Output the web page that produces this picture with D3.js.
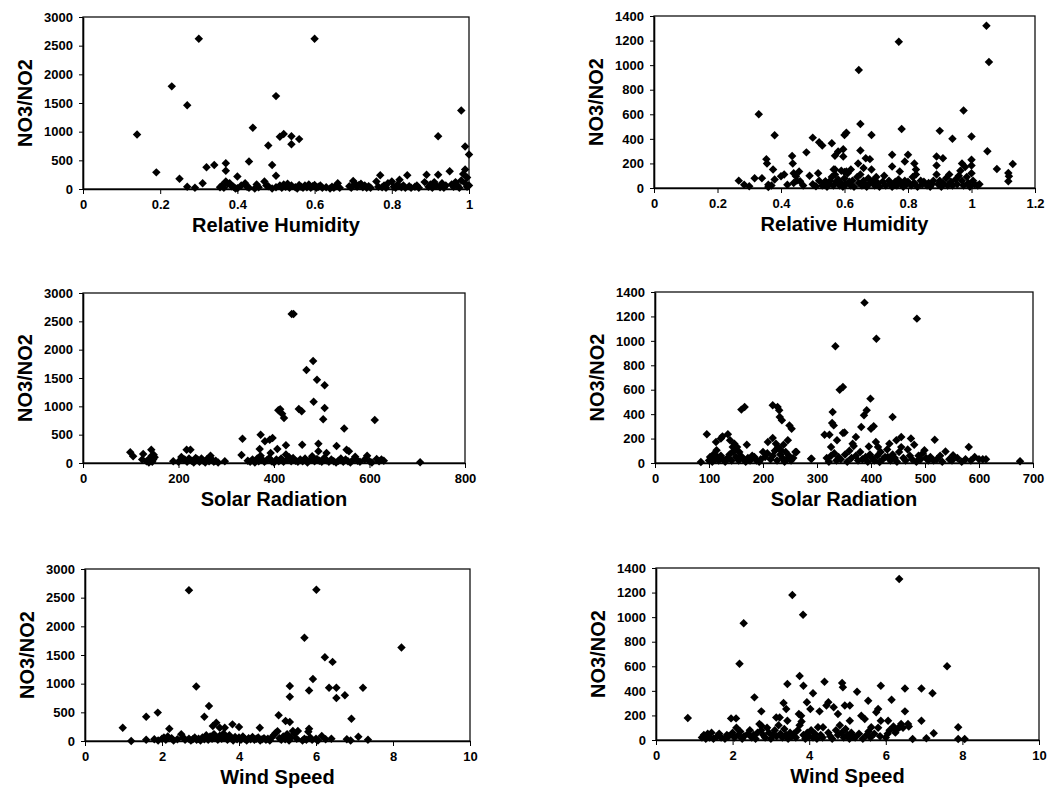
<!DOCTYPE html>
<html lang="en">
  <head>
    <meta charset="utf-8">
    <script src="https://cdn.jsdelivr.net/npm/d3@7"></script>
    <style>
      body {
        margin: 0;
        background: #fff;
      }
      svg {
        display: block;
      }
      .tick text {
        font-family: 'Liberation Sans', Arial, sans-serif;
        font-weight: 700;
        font-size: 13px;
        fill: #000;
      }
      .title {
        font-family: 'Liberation Sans', Arial, sans-serif;
        font-weight: 700;
        fill: #000;
      }
    </style>
  </head>
  <body>
    <svg></svg>
  </body>
  <script>

    // Tick labels
    const ticksRhLeft = [0, 0.2, 0.4, 0.6, 0.8, 1];
    const ticksRhRight = [0, 0.2, 0.4, 0.6, 0.8, 1, 1.2];
    const ticksSolarLeft = [0, 200, 400, 600, 800];
    const ticksSolarRight = [0, 100, 200, 300, 400, 500, 600, 700];
    const ticksWind = [0, 2, 4, 6, 8, 10];
    const ticksRatioLeft = [0, 500, 1000, 1500, 2000, 2500, 3000];
    const ticksRatioRight = [0, 200, 400, 600, 800, 1000, 1200, 1400];

    const xTitles = ['Relative Humidity', 'Relative Humidity', 'Solar Radiation', 'Solar Radiation', 'Wind Speed', 'Wind Speed'];
    const yTitle = 'NO3/NO2';

    // [x, NO3/NO2]
    const rhLeft = [
      [0.14, 950], [0.19, 290], [0.23, 1790], [0.25, 180], [0.27, 1460], [0.30, 2620], [0.32, 380],
      [0.34, 420], [0.37, 450], [0.37, 320], [0.40, 220], [0.43, 480], [0.44, 1070], [0.48, 760],
      [0.49, 420], [0.50, 1620], [0.50, 230], [0.51, 910], [0.52, 960], [0.54, 920], [0.54, 780],
      [0.56, 870], [0.60, 2620], [0.92, 920], [0.98, 1370], [0.99, 740], [1.0, 600],
      [0.27, 40], [0.29, 20], [0.31, 100], [0.355, 30], [0.36, 60], [0.365, 20], [0.37, 130], [0.375, 90],
      [0.38, 100], [0.385, 50], [0.39, 40], [0.395, 10], [0.40, 15], [0.41, 60], [0.42, 100], [0.425, 40],
      [0.43, 20], [0.445, 10], [0.45, 80], [0.455, 30], [0.47, 130], [0.475, 60], [0.48, 50], [0.49, 10],
      [0.50, 30], [0.51, 60], [0.515, 20], [0.52, 80], [0.525, 40], [0.53, 90], [0.535, 20], [0.54, 60],
      [0.55, 30], [0.555, 10], [0.56, 70], [0.565, 40], [0.57, 20], [0.575, 60], [0.58, 30], [0.585, 80],
      [0.59, 20], [0.595, 50], [0.60, 70], [0.605, 20], [0.61, 40], [0.615, 60], [0.62, 20], [0.63, 30],
      [0.64, 10], [0.645, 40], [0.65, 20], [0.655, 50], [0.66, 100], [0.665, 20], [0.69, 50], [0.695, 20],
      [0.70, 140], [0.705, 90], [0.71, 40], [0.715, 70], [0.72, 90], [0.725, 30], [0.73, 60], [0.735, 20],
      [0.74, 50], [0.745, 20], [0.76, 130], [0.765, 40], [0.77, 240], [0.775, 30], [0.78, 60], [0.785, 20],
      [0.79, 100], [0.80, 130], [0.805, 40], [0.81, 20], [0.815, 80], [0.82, 160], [0.825, 30], [0.83, 60],
      [0.835, 20], [0.84, 240], [0.845, 50], [0.85, 20], [0.86, 40], [0.865, 60], [0.87, 20], [0.885, 120],
      [0.89, 250], [0.895, 40], [0.90, 80], [0.905, 20], [0.91, 120], [0.915, 60], [0.92, 250], [0.925, 30],
      [0.93, 100], [0.935, 20], [0.94, 60], [0.95, 310], [0.955, 80], [0.96, 40], [0.965, 120], [0.97, 60],
      [0.975, 20], [0.98, 150], [0.985, 260], [0.99, 340], [0.99, 100], [0.995, 40], [1.0, 60], [0.995, 200]
    ];

    const rhRight = [
      [0.267, 60], [0.284, 27], [0.30, 14], [0.317, 80], [0.33, 600], [0.34, 80], [0.354, 235], [0.356, 200],
      [0.36, 27], [0.375, 150], [0.38, 430], [0.38, 70], [0.40, 95], [0.41, 110], [0.42, 27], [0.435, 260],
      [0.437, 200], [0.44, 120], [0.447, 95], [0.457, 135], [0.46, 54], [0.48, 290], [0.49, 100], [0.50, 410],
      [0.517, 120], [0.52, 373], [0.53, 346], [0.54, 54], [0.56, 365], [0.566, 150], [0.57, 262], [0.58, 297],
      [0.596, 316], [0.596, 257], [0.60, 432], [0.606, 450], [0.606, 135], [0.62, 150], [0.645, 960],
      [0.65, 520], [0.65, 305], [0.643, 200], [0.66, 162], [0.667, 243], [0.68, 235], [0.685, 432], [0.685, 150],
      [0.771, 1190], [0.78, 480], [0.774, 135], [0.75, 270], [0.75, 175], [0.79, 216], [0.80, 270], [0.82, 200],
      [0.825, 150], [0.89, 184], [0.89, 257], [0.91, 243], [0.90, 465], [0.94, 400], [0.97, 200], [0.975, 630],
      [1.0, 420], [1.0, 230], [1.0, 184], [1.047, 1320], [1.055, 1025], [1.05, 300], [1.08, 154],
      [1.116, 122], [1.118, 95], [1.116, 54], [1.13, 195],
      [0.36, 8], [0.37, 20], [0.44, 40], [0.45, 60], [0.47, 20], [0.50, 30], [0.51, 14], [0.52, 60], [0.53, 20],
      [0.535, 40], [0.545, 10], [0.55, 30], [0.555, 60], [0.56, 90], [0.565, 20], [0.57, 110], [0.575, 50],
      [0.58, 70], [0.585, 20], [0.59, 40], [0.595, 10], [0.60, 80], [0.605, 30], [0.61, 120], [0.615, 50],
      [0.62, 20], [0.625, 60], [0.63, 10], [0.64, 90], [0.645, 40], [0.65, 110], [0.655, 20], [0.66, 60],
      [0.665, 30], [0.67, 10], [0.675, 80], [0.68, 40], [0.69, 60], [0.695, 20], [0.70, 90], [0.705, 40],
      [0.71, 10], [0.72, 50], [0.725, 100], [0.73, 20], [0.74, 60], [0.745, 30], [0.75, 10], [0.76, 50],
      [0.765, 20], [0.77, 70], [0.78, 40], [0.785, 10], [0.79, 60], [0.795, 30], [0.80, 50], [0.81, 20],
      [0.815, 90], [0.82, 40], [0.825, 110], [0.83, 10], [0.84, 60], [0.845, 30], [0.85, 50], [0.86, 20],
      [0.865, 40], [0.87, 10], [0.875, 30], [0.88, 60], [0.89, 110], [0.895, 30], [0.90, 60], [0.905, 10],
      [0.91, 40], [0.92, 80], [0.925, 20], [0.93, 110], [0.935, 50], [0.94, 20], [0.95, 70], [0.955, 30],
      [0.96, 100], [0.965, 140], [0.97, 60], [0.975, 20], [0.98, 170], [0.985, 90], [0.99, 40], [0.995, 10],
      [1.0, 120], [1.005, 60], [1.01, 30], [1.02, 20], [1.025, 30], [0.57, 150], [0.59, 140], [0.60, 130]
    ];

    const solarLeft = [
      [99, 190], [105, 120], [126, 160], [143, 235], [148, 147], [217, 235], [225, 235], [334, 430],
      [370, 247], [372, 500], [381, 382], [391, 411], [397, 441], [393, 176], [407, 247], [409, 930],
      [413, 950], [417, 870], [421, 794], [425, 312], [437, 2630], [441, 2630], [452, 953], [458, 912],
      [459, 324], [468, 1640], [482, 1800], [483, 1080], [490, 1470], [493, 340], [493, 206], [506, 1370],
      [506, 970], [503, 770], [510, 176], [531, 300], [547, 610], [552, 235], [557, 206], [611, 760], [706, 12],
      [124, 60], [133, 30], [138, 10], [140, 80], [143, 120], [145, 20], [147, 60], [150, 100], [189, 30],
      [200, 20], [206, 106], [210, 60], [213, 60], [218, 20], [222, 80], [228, 40], [232, 10], [236, 90],
      [240, 60], [244, 20], [248, 80], [252, 40], [256, 10], [260, 70], [264, 30], [267, 130], [270, 60],
      [274, 20], [278, 40], [283, 10], [297, 30], [332, 141], [345, 40], [350, 20], [355, 60], [360, 10],
      [365, 80], [368, 30], [372, 130], [375, 60], [380, 20], [385, 50], [390, 90], [395, 30], [400, 10],
      [405, 60], [410, 30], [415, 80], [420, 20], [425, 150], [428, 60], [432, 100], [436, 30], [440, 90],
      [445, 40], [450, 20], [455, 60], [460, 30], [465, 80], [470, 10], [475, 50], [480, 120], [485, 30],
      [490, 70], [495, 40], [500, 20], [505, 90], [510, 50], [515, 20], [520, 60], [525, 30], [530, 10],
      [535, 40], [540, 80], [545, 20], [550, 60], [555, 30], [560, 10], [565, 50], [570, 110], [575, 40],
      [580, 20], [590, 60], [595, 130], [600, 30], [605, 10], [615, 70], [620, 30], [625, 60], [630, 40]
    ];

    const solarRight = [
      [85, 8], [96, 235], [113, 172], [114, 104], [122, 200], [125, 218], [135, 235], [139, 186], [144, 131],
      [145, 90], [147, 158], [156, 90], [160, 437], [166, 458], [170, 150], [161, 49], [180, 60], [184, 50],
      [200, 90], [209, 172], [218, 205], [218, 472], [227, 458], [230, 431], [231, 377], [235, 350], [224, 158],
      [233, 104], [246, 186], [249, 308], [253, 281], [260, 90], [289, 35], [314, 232], [323, 232], [326, 131],
      [328, 328], [331, 308], [329, 418], [334, 955], [337, 186], [342, 600], [348, 622], [348, 246], [351, 250],
      [366, 158], [372, 213], [382, 295], [387, 390], [388, 1313], [392, 431], [396, 136], [399, 527], [400, 281],
      [405, 300], [409, 172], [410, 1018], [413, 131], [416, 8], [431, 49], [434, 158], [440, 377], [447, 186],
      [456, 213], [474, 200], [485, 1182], [499, 104], [518, 191], [538, 95], [552, 63], [581, 131], [592, 49],
      [607, 30], [613, 30], [676, 14],
      [100, 20], [102, 50], [106, 10], [108, 70], [112, 30], [116, 50], [118, 20], [122, 60], [126, 30],
      [130, 10], [134, 40], [138, 70], [142, 20], [146, 100], [150, 50], [152, 130], [155, 20], [158, 60],
      [164, 30], [168, 10], [172, 40], [176, 20], [188, 20], [193, 10], [196, 30], [204, 50], [208, 80],
      [214, 30], [218, 60], [222, 100], [226, 20], [228, 130], [232, 70], [236, 40], [238, 150], [240, 10],
      [242, 90], [244, 30], [248, 60], [252, 20], [256, 40], [262, 90], [290, 35], [318, 40], [322, 10],
      [326, 60], [332, 80], [336, 20], [340, 50], [344, 30], [352, 70], [356, 10], [360, 100], [364, 40],
      [368, 140], [372, 60], [376, 20], [380, 90], [384, 30], [390, 50], [394, 10], [398, 70], [402, 40],
      [406, 20], [412, 60], [418, 90], [422, 30], [426, 50], [430, 110], [436, 20], [440, 70], [444, 40],
      [448, 10], [452, 90], [456, 130], [460, 40], [464, 20], [468, 110], [472, 60], [476, 30], [480, 150],
      [484, 10], [488, 60], [492, 30], [496, 80], [502, 40], [506, 20], [510, 50], [516, 20], [522, 30],
      [528, 60], [532, 10], [545, 30], [550, 20], [560, 40], [568, 10], [575, 30], [585, 20], [600, 30]
    ];

    const windLeft = [
      [0.98, 233], [1.2, 0], [1.59, 425], [1.89, 495], [2.19, 215], [2.70, 2630], [2.89, 950], [3.1, 425],
      [3.22, 610], [3.32, 262], [3.41, 320], [3.5, 233], [3.63, 233], [3.83, 290], [4.0, 245], [4.54, 233],
      [5.03, 448], [5.21, 350], [5.32, 330], [5.32, 960], [5.32, 770], [5.4, 175], [5.53, 175], [5.7, 1800],
      [5.82, 880], [5.82, 215], [5.92, 1080], [6.01, 2640], [6.23, 1460], [6.34, 930], [6.43, 1380],
      [6.53, 930], [6.53, 750], [6.75, 800], [6.92, 390], [7.22, 930], [7.1, 75], [7.35, 20], [8.22, 1630],
      [1.59, 20], [1.8, 30], [1.9, 10], [2.0, 40], [2.05, 60], [2.1, 20], [2.15, 80], [2.25, 50], [2.3, 10],
      [2.4, 30], [2.5, 116], [2.55, 60], [2.6, 20], [2.7, 40], [2.75, 10], [2.8, 30], [2.85, 60], [2.9, 20],
      [2.95, 40], [3.0, 10], [3.05, 60], [3.1, 30], [3.15, 100], [3.2, 20], [3.25, 80], [3.3, 40], [3.35, 120],
      [3.4, 60], [3.45, 20], [3.5, 90], [3.55, 40], [3.6, 130], [3.65, 60], [3.7, 20], [3.75, 100], [3.8, 50],
      [3.85, 10], [3.9, 70], [3.95, 30], [4.0, 60], [4.05, 20], [4.1, 80], [4.15, 40], [4.2, 10], [4.25, 50],
      [4.3, 30], [4.35, 70], [4.4, 20], [4.45, 40], [4.5, 60], [4.55, 10], [4.6, 30], [4.65, 50], [4.7, 20],
      [4.75, 40], [4.8, 10], [4.85, 60], [4.9, 100], [4.95, 140], [5.0, 170], [5.05, 50], [5.1, 20], [5.15, 80],
      [5.2, 30], [5.25, 120], [5.3, 10], [5.35, 60], [5.45, 130], [5.5, 40], [5.65, 10], [5.7, 40], [5.75, 20],
      [5.8, 160], [5.85, 60], [5.9, 20], [6.0, 40], [6.05, 10], [6.15, 87], [6.25, 30], [6.4, 40], [6.8, 30],
      [6.9, 10]
    ];

    const windRight = [
      [0.83, 180], [1.96, 176], [2.09, 176], [2.18, 620], [2.29, 950], [2.57, 347], [2.75, 233], [2.75, 117],
      [3.14, 184], [3.23, 184], [3.33, 301], [3.4, 252], [3.43, 456], [3.43, 157], [3.56, 1180], [3.75, 520],
      [3.73, 212], [3.79, 198], [3.85, 442], [3.84, 1020], [3.94, 307], [4.03, 252], [4.1, 380], [4.23, 103],
      [4.27, 233], [4.36, 103], [4.4, 475], [4.45, 280], [4.5, 307], [4.64, 266], [4.75, 212], [4.86, 464],
      [4.88, 429], [4.93, 280], [5.06, 280], [5.06, 157], [5.25, 393], [5.36, 198], [5.45, 171], [5.54, 320],
      [5.62, 103], [5.75, 225], [5.8, 252], [5.87, 442], [5.87, 157], [6.06, 157], [6.15, 328], [6.22, 90],
      [6.35, 1310], [6.36, 103], [6.5, 233], [6.5, 420], [6.58, 130], [6.7, 8], [6.93, 420], [6.93, 157],
      [7.06, 14], [7.22, 380], [7.25, 54], [7.6, 600], [7.89, 103], [7.89, 8], [8.06, 8],
      [1.2, 20], [1.25, 40], [1.3, 10], [1.35, 50], [1.4, 20], [1.45, 60], [1.5, 10], [1.6, 30], [1.65, 50],
      [1.7, 20], [1.8, 10], [1.85, 40], [1.9, 30], [2.0, 60], [2.05, 20], [2.1, 100], [2.15, 40], [2.2, 70],
      [2.25, 10], [2.3, 30], [2.4, 50], [2.45, 80], [2.5, 20], [2.55, 40], [2.6, 10], [2.65, 60], [2.7, 130],
      [2.75, 80], [2.8, 40], [2.85, 20], [2.9, 100], [2.95, 60], [3.0, 10], [3.05, 40], [3.1, 80], [3.15, 30],
      [3.2, 120], [3.25, 50], [3.3, 20], [3.35, 90], [3.4, 40], [3.45, 10], [3.5, 60], [3.55, 30], [3.6, 50],
      [3.65, 20], [3.7, 80], [3.75, 120], [3.8, 150], [3.85, 40], [3.9, 10], [3.95, 60], [4.0, 30], [4.05, 80],
      [4.1, 20], [4.15, 50], [4.2, 10], [4.3, 40], [4.35, 20], [4.5, 60], [4.55, 30], [4.6, 10], [4.7, 80],
      [4.75, 40], [4.8, 120], [4.85, 60], [4.9, 20], [4.95, 90], [5.0, 40], [5.05, 10], [5.1, 60], [5.15, 30],
      [5.2, 20], [5.3, 50], [5.4, 10], [5.5, 40], [5.55, 70], [5.6, 20], [5.7, 50], [5.8, 100], [5.85, 30],
      [6.0, 20], [6.05, 50], [6.1, 80], [6.2, 110], [6.25, 60], [6.3, 90], [6.4, 130], [6.45, 100], [6.6, 110]
    ];

    // Panel frames (pixels) and their axes
    const panels = [
      { box: [83, 17, 469, 189], data: rhLeft, xTicks: ticksRhLeft, yTicks: ticksRatioLeft },
      { box: [654, 16, 1035, 188], data: rhRight, xTicks: ticksRhRight, yTicks: ticksRatioRight },
      { box: [83, 293, 465, 463], data: solarLeft, xTicks: ticksSolarLeft, yTicks: ticksRatioLeft },
      { box: [655, 292, 1033, 463], data: solarRight, xTicks: ticksSolarRight, yTicks: ticksRatioRight },
      { box: [85, 569, 470, 741], data: windLeft, xTicks: ticksWind, yTicks: ticksRatioLeft },
      { box: [656, 568, 1039, 740], data: windRight, xTicks: ticksWind, yTicks: ticksRatioRight }
    ];

    const svg = d3.select('svg')
        .attr('width', 1049)
        .attr('height', 796);

    const diamond = d3.symbol(d3.symbolSquare, 36);
    const plain = d3.format('');

    panels.forEach((p, i) => {
      const [x0, y0, x1, y1] = p.box;
      const x = d3.scaleLinear()
          .domain([p.xTicks[0], p.xTicks[p.xTicks.length - 1]])
          .range([x0, x1]);
      const y = d3.scaleLinear()
          .domain([p.yTicks[0], p.yTicks[p.yTicks.length - 1]])
          .range([y1, y0]);

      const g = svg.append('g');

      g.append('rect')
          .attr('x', x0)
          .attr('y', y0)
          .attr('width', x1 - x0)
          .attr('height', y1 - y0)
          .attr('fill', 'none')
          .attr('stroke', '#111')
          .attr('stroke-width', 1.3);

      g.append('g')
          .attr('transform', 'translate(0,' + y1 + ')')
          .call(d3.axisBottom(x).tickValues(p.xTicks).tickFormat(plain).tickSize(5).tickSizeOuter(0).tickPadding(6))
          .call(a => a.select('.domain').attr('stroke-width', 1.6));

      g.append('g')
          .attr('transform', 'translate(' + x0 + ',0)')
          .call(d3.axisLeft(y).tickValues(p.yTicks).tickFormat(plain).tickSize(4).tickSizeOuter(0).tickPadding(6))
          .call(a => a.select('.domain').attr('stroke-width', 1.6));

      g.append('g').selectAll('path')
          .data(p.data)
        .enter().append('path')
          .attr('d', diamond)
          .attr('transform', d => 'translate(' + x(d[0]) + ',' + y(d[1]) + ') rotate(45)')
          .attr('fill', '#000');

      g.append('text')
          .attr('class', 'title')
          .attr('x', (x0 + x1) / 2)
          .attr('y', y1 + 43)
          .attr('text-anchor', 'middle')
          .attr('font-size', 20)
          .text(xTitles[i]);

      g.append('text')
          .attr('class', 'title')
          .attr('transform', 'translate(' + (x0 - 51) + ',' + ((y0 + y1) / 2) + ') rotate(-90)')
          .attr('text-anchor', 'middle')
          .attr('font-size', 20)
          .text(yTitle);
    });
  </script>
</html>
